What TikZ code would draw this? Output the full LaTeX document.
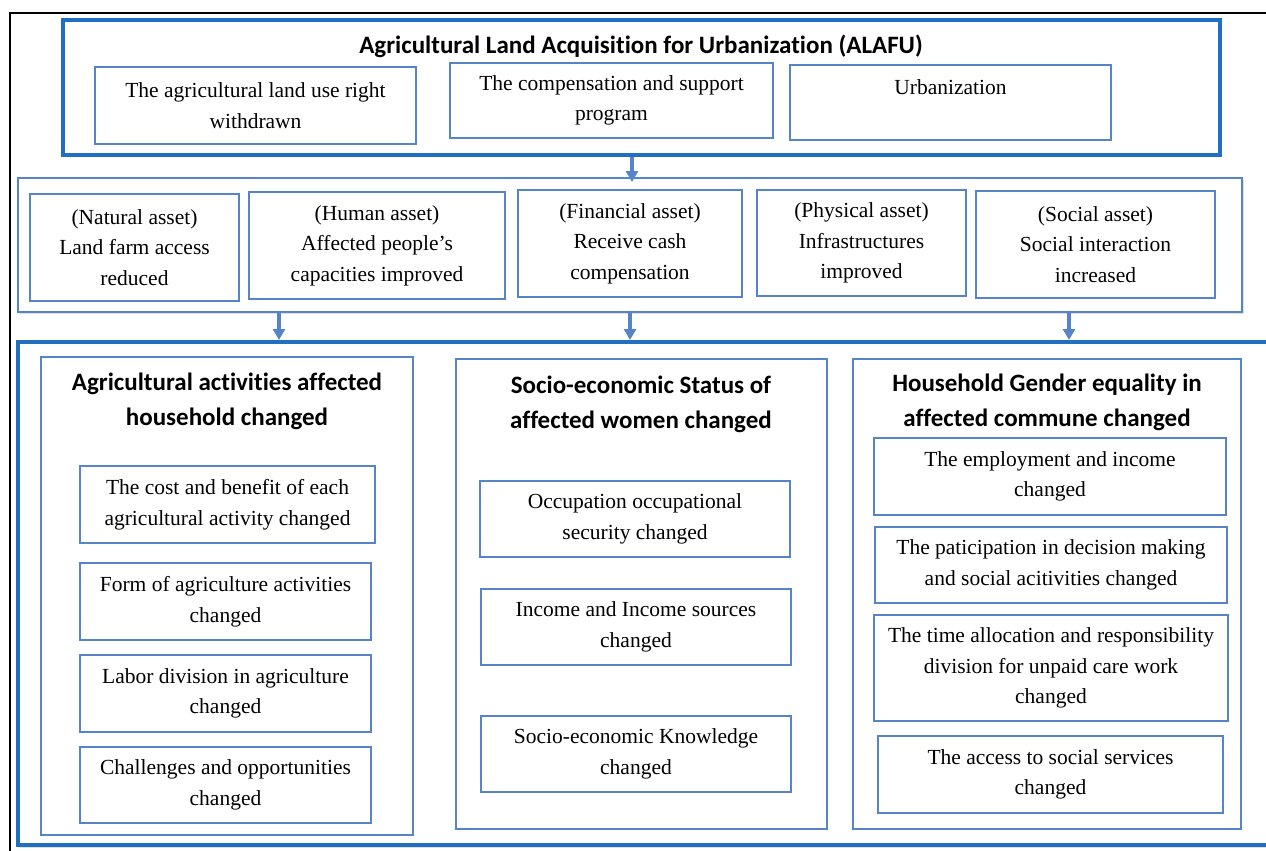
\documentclass[tikz,border=0pt]{standalone}
\usepackage{fontspec}
\setmainfont{Liberation Serif}
\newfontfamily\headfont[Ligatures=NoCommon]{Carlito}
\usepackage{xcolor}
\usetikzlibrary{arrows.meta,positioning,shadows}
\definecolor{FrameBlue}{HTML}{1F70C1}
\definecolor{BoxBlue}{HTML}{5585C8}

\begin{document}
\begin{tikzpicture}[
  x=1pt, y=-1pt,
  box/.style={draw=BoxBlue, line width=1.4pt, fill=white, align=center, inner sep=2pt,
    font=\fontsize{21.5}{30.5}\selectfont},
  frame/.style={draw=FrameBlue, line width=4pt},
  strip/.style={draw=BoxBlue, line width=2pt, fill=white, drop shadow={opacity=0.25, shadow xshift=2pt, shadow yshift=-2pt}},
  panel/.style={draw=BoxBlue, line width=1.4pt},
  head/.style={align=center, font=\headfont\bfseries\fontsize{25}{35}\selectfont},
  arr/.style={-{Triangle[width=12pt,length=11pt]}, draw=BoxBlue, line width=3.2pt}
]
  \useasboundingbox (0,0) rectangle (1266,851);
  \clip (0,0) rectangle (1266,851);
  \draw[line width=2pt] (10,851) -- (10,13) -- (1270,13);

  % acquisition
  \node[frame, minimum width=1157, minimum height=135] (alafu) at (641.5,87.5) {};
  \node[head] (alafutitle) at (641,46) {Agricultural Land Acquisition for Urbanization (ALAFU)};
  \node[box, minimum width=321, minimum height=77] (withdrawn) at (255.5,105.5) {The agricultural land use right\\withdrawn};
  \node[box, minimum width=323, minimum height=75] (program) at (611.5,100.5) {The compensation and support\\program};
  \node[box, minimum width=321, minimum height=75, text depth=30pt] (urban) at (950.5,102.5) {Urbanization};

  % assets
  \node[strip, minimum width=1224, minimum height=134] (assets) at (630,245) {};
  \node[box, minimum width=209, minimum height=107] (natural) at (134.5,247.5) {(Natural asset)\\Land farm access\\reduced};
  \node[box, minimum width=256, minimum height=107] (human) at (377,245.5) {(Human asset)\\Affected people’s\\capacities improved};
  \node[box, minimum width=224, minimum height=107] (financial) at (630,243.5) {(Financial asset)\\Receive cash\\compensation};
  \node[box, minimum width=209, minimum height=106] (physical) at (861.5,243) {(Physical asset)\\Infrastructures\\improved};
  \node[box, minimum width=239, minimum height=107] (social) at (1095.5,244.5) {(Social asset)\\Social interaction\\increased};

  % impacts
  \node[frame, fill=white, drop shadow={opacity=0.25, shadow xshift=2pt, shadow yshift=-3pt}, minimum width=1262, minimum height=503] (impact) at (649,593.5) {};
  \node[panel, minimum width=372, minimum height=478] (agri) at (227,596) {};
  \node[panel, minimum width=371, minimum height=470] (women) at (641.5,594) {};
  \node[panel, minimum width=388, minimum height=470] (gender) at (1047,594) {};
  \node[head] (agrititle) at (227,401.5) {Agricultural activities affected\\household changed};
  \node[head] (womentitle) at (641,404.5) {Socio-economic Status of\\affected women changed};
  \node[head] (gendertitle) at (1047,402.5) {Household Gender equality in\\affected commune changed};

  \node[box, minimum width=295, minimum height=77] (cost) at (227.5,504.5) {The cost and benefit of each\\agricultural activity changed};
  \node[box, minimum width=291, minimum height=77] (form) at (225.5,601.5) {Form of agriculture activities\\changed};
  \node[box, minimum width=291, minimum height=77] (labor) at (225.5,693.5) {Labor division in agriculture\\changed};
  \node[box, minimum width=291, minimum height=76] (challenge) at (225.5,785) {Challenges and opportunities\\changed};

  \node[box, minimum width=310, minimum height=76] (occupation) at (635,519) {Occupation occupational\\security changed};
  \node[box, minimum width=310, minimum height=76] (income) at (636,627) {Income and Income sources\\changed};
  \node[box, minimum width=310, minimum height=76] (knowledge) at (636,754) {Socio-economic Knowledge\\changed};

  \node[box, minimum width=352, minimum height=77] (employ) at (1050,476.5) {The employment and income\\changed};
  \node[box, minimum width=352, minimum height=76] (decision) at (1051,565) {The paticipation in decision making\\and social acitivities changed};
  \node[box, minimum width=354, minimum height=106] (carework) at (1051,668) {The time allocation and responsibility\\division for unpaid care work\\changed};
  \node[box, minimum width=345, minimum height=77] (services) at (1050.5,774.5) {The access to social services\\changed};

  \draw[arr, shorten >=-5pt] (alafu.south -| 632,0) -- (assets.north -| 632,0);
  \draw[arr] (assets.south -| 279,0) -- (impact.north -| 279,0);
  \draw[arr] (assets.south -| 630,0) -- (impact.north -| 630,0);
  \draw[arr] (assets.south -| 1069,0) -- (impact.north -| 1069,0);
\end{tikzpicture}
\end{document}
